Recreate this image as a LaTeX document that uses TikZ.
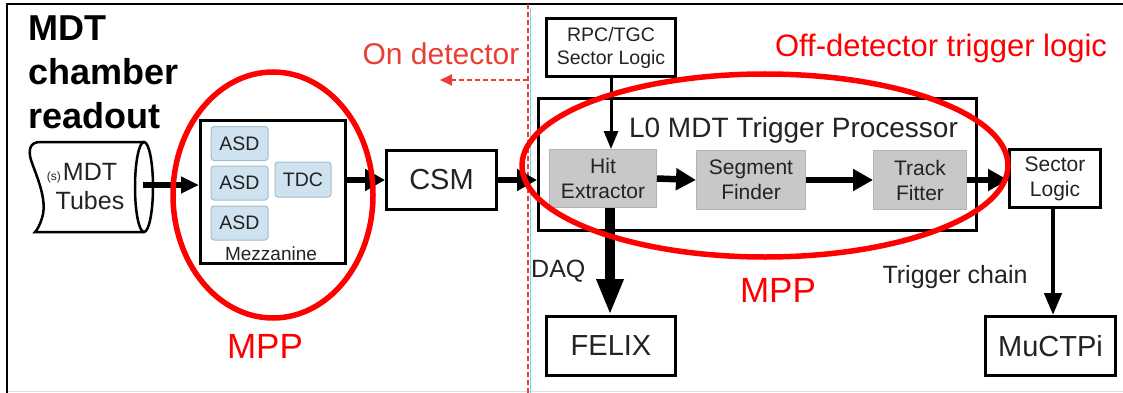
\documentclass[tikz,border=0pt]{standalone}
\usepackage{fontspec}
\setmainfont{Liberation Sans}
\usetikzlibrary{arrows.meta,calc}
\definecolor{txt}{RGB}{35,35,35}
\definecolor{grayfill}{RGB}{200,200,200}
\definecolor{grayedge}{RGB}{178,178,178}
\definecolor{asdfill}{RGB}{206,226,240}
\definecolor{asdedge}{RGB}{165,188,204}
\definecolor{mppred}{RGB}{255,0,0}
\definecolor{onred}{RGB}{232,62,52}
\newcommand\myfs[2]{\fontsize{#1}{#2}\selectfont}
\begin{document}
\begin{tikzpicture}[x=1pt,y=-1pt,
  box/.style={draw=black, line width=3.3pt, fill=white, text=txt, inner sep=0pt, align=center},
  graybox/.style={draw=grayedge, line width=1pt, fill=grayfill, text=txt, align=center, inner sep=0pt, font=\myfs{21}{25}},
  chip/.style={draw=asdedge, line width=1pt, fill=asdfill, rounded corners=3pt, text=txt, inner sep=0pt, font=\myfs{19.5}{22}},
  arr/.style={line width=6.5pt, -{Triangle[length=20pt,width=21pt]}},
  smallarr/.style={line width=6pt, -{Triangle[length=18pt,width=16pt]}},
  thinarr/.style={line width=3pt, -{Triangle[length=18pt,width=14pt]}},
  medarr/.style={line width=4.5pt, -{Triangle[length=22pt,width=17pt]}},
  bigarr/.style={line width=10pt, -{Triangle[length=36pt,width=25pt]}},
  mppring/.style={draw=mppred, line width=5.5pt},
  lbl/.style={inner sep=0pt, text=txt}
]
\useasboundingbox (0,0) rectangle (1123,393);
% frame
\draw[black!12, line width=1pt] (7,391.5) -- (1123,391.5);
\draw[black, line width=2pt] (7,393) -- (7,4) -- (1123,4);
% divider
\draw[cyan!55, line width=0.6pt] (530.5,8) -- (530.5,393);
\draw[onred, line width=1.4pt, dash pattern=on 5pt off 3pt] (528,4) -- (528,393);

% title
\node[anchor=north west, inner sep=0pt, align=left, font=\myfs{36}{44}\bfseries] (title) at (28,16) {MDT\\chamber\\readout};

% MDT tubes (cylinder)
\draw[line width=2.5pt, fill=white] (144,142) -- (40,142)
  .. controls (30,142) and (28,150) .. (31,160)
  .. controls (36,175) and (48,200) .. (42,218)
  .. controls (40,225) and (37,230) .. (35,232) -- (144,232);
\draw[line width=2.5pt] (144,187) ellipse [x radius=9, y radius=45];
\coordinate (tubeend) at (143,185);
\node[lbl, font=\myfs{25}{29}, align=center] (tubes) at (90,187) {\llap{\myfs{12}{12}(s)\,}MDT\\Tubes};

% Mezzanine
\node[box, minimum width=144.7pt, minimum height=142.7pt] (mezz) at (273,192) {};
\node[chip, minimum width=57pt, minimum height=34pt] (asd1) at (239.5,143.5) {ASD};
\node[chip, minimum width=57pt, minimum height=34pt] (asd2) at (239.5,183) {ASD};
\node[chip, minimum width=57pt, minimum height=34pt] (asd3) at (239.5,223) {ASD};
\node[chip, minimum width=56pt, minimum height=35pt] (tdc) at (303,179.5) {TDC};
\node[lbl, font=\myfs{19}{21}, anchor=base] (mezzlbl) at (271,260) {Mezzanine};

% CSM
\node[box, font=\myfs{29}{32}, minimum width=109.7pt, minimum height=58.7pt] (csm) at (441.5,180) {CSM};

% RPC/TGC
\node[box, font=\myfs{19.5}{23}, minimum width=128.7pt, minimum height=57.7pt] (rpc) at (611,47.5) {RPC/TGC\\Sector Logic};

% L0 trigger processor
\node[box, minimum width=437.7pt, minimum height=131.7pt] (l0) at (757.5,164.5) {};
\node[lbl, font=\myfs{28}{30}, anchor=base] (l0title) at (793.5,137) {L0 MDT Trigger Processor};
\node[graybox, minimum width=107pt, minimum height=58pt] (hit) at (603,178.5) {Hit\\Extractor};
\node[graybox, minimum width=109pt, minimum height=59pt] (seg) at (751,180) {Segment\\Finder};
\node[graybox, minimum width=93pt, minimum height=59pt] (track) at (920,180) {Track\\Fitter};

% Sector logic, MuCTPi, FELIX
\node[box, font=\myfs{21}{25}, minimum width=90.7pt, minimum height=57.7pt] (sector) at (1055,178.5) {Sector\\Logic};
\node[box, font=\myfs{29}{32}, minimum width=129.7pt, minimum height=58.7pt] (muctpi) at (1050.5,346) {MuCTPi};
\node[box, font=\myfs{29}{32}, minimum width=128.7pt, minimum height=58.7pt] (felix) at (611,346) {FELIX};

% labels
\node[lbl, font=\myfs{25}{28}, anchor=base west] (daq) at (531,277) {DAQ};
\node[lbl, font=\myfs{25}{28}, anchor=base] (trig) at (955,283) {Trigger chain};
\node[inner sep=0pt, text=onred, font=\myfs{30}{32}, anchor=base] (ondet) at (441,65) {On detector};
\node[inner sep=0pt, text=mppred, font=\myfs{31}{33}, anchor=base] (offdet) at (941,57) {Off-detector trigger logic};
\node[inner sep=0pt, text=mppred, font=\myfs{35}{38}] (mpp1) at (265,346) {MPP};
\node[inner sep=0pt, text=mppred, font=\myfs{35}{38}] (mpp2) at (778,290) {MPP};

% connectors
\coordinate (slout) at (1053,208);
\coordinate (daqout) at (610,208);
\draw[smallarr] (tubeend) -- (tubeend -| mezz.west);
\draw[arr] (mezz.east |- csm.west) -- (csm.west);
\draw[arr] (csm.east) -- (csm.east -| l0.west);
\draw[arr] (hit.east) -- (seg.west);
\draw[arr] (seg.east) -- (track.east -| track.west);
\draw[arr] (track.east) -- (track.east -| sector.west);
\draw[thinarr] (rpc.south) -- (rpc.south |- hit.north);
\draw[medarr] (slout) -- (slout |- muctpi.north);
\draw[bigarr] (daqout) -- (daqout |- felix.north);
\coordinate (divpt) at (528,80);
\coordinate (ondetend) at (440,80);
\draw[onred, line width=1.8pt, dash pattern=on 5pt off 3pt, -{Triangle[length=12pt,width=11pt]}] (divpt) -- (ondetend);

% MPP rings
\draw[mppring] (273,195) ellipse [x radius=100, y radius=123];
\draw[mppring] (765,165.5) ellipse [x radius=243, y radius=91.5];
\end{tikzpicture}
\end{document}
